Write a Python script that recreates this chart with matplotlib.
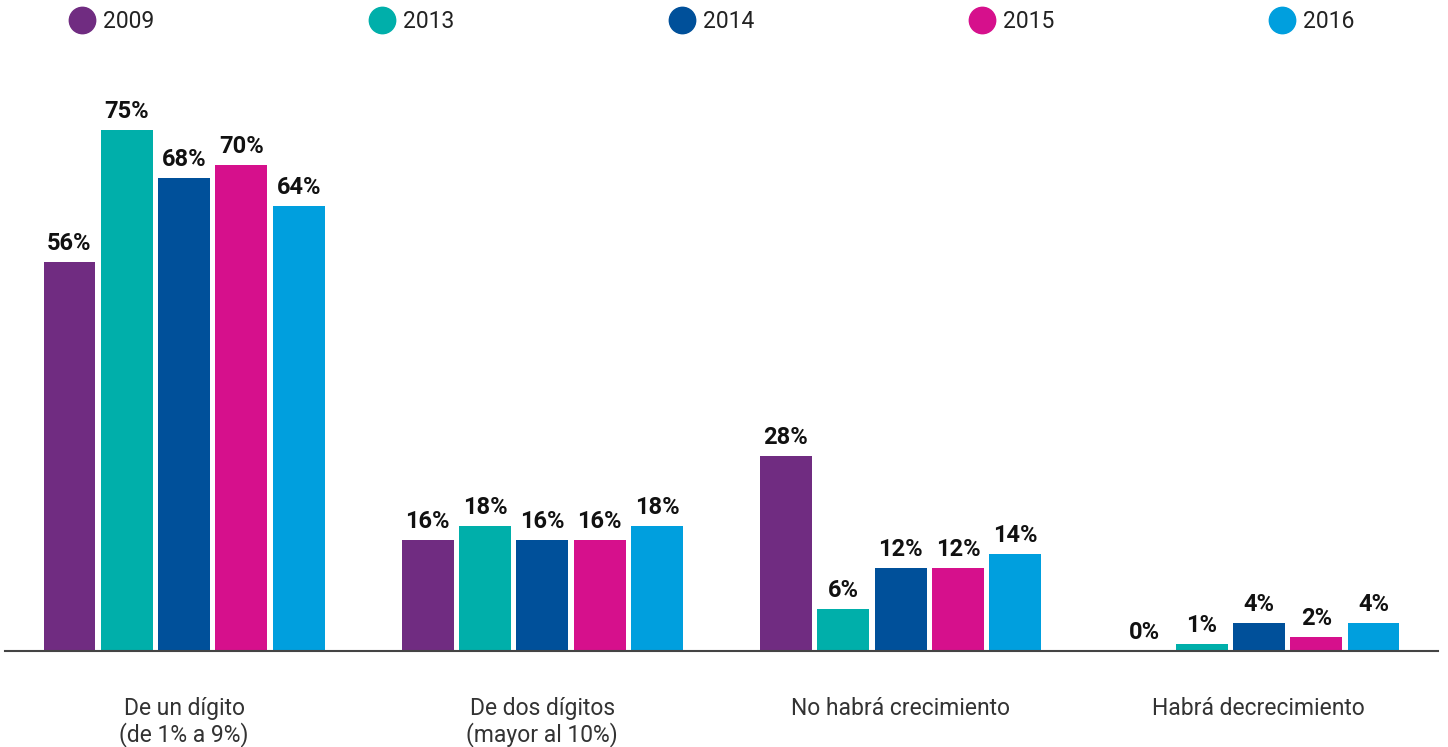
import numpy as np
import matplotlib.pyplot as plt
from matplotlib.lines import Line2D

plt.rcParams['font.family'] = ['Roboto', 'DejaVu Sans']

categorias = ['De un dígito\n(de 1% a 9%)', 'De dos dígitos\n(mayor al 10%)',
              'No habrá crecimiento', 'Habrá decrecimiento']
anios = ['2009', '2013', '2014', '2015', '2016']
valores = {
    '2009': [56, 16, 28, 0],
    '2013': [75, 18, 6, 1],
    '2014': [68, 16, 12, 4],
    '2015': [70, 16, 12, 2],
    '2016': [64, 18, 14, 4],
}
colores = ['#702C81', '#00AFAA', '#00509A', '#D6108C', '#009FDE']

fig = plt.figure(figsize=(14.48, 7.47), dpi=100)
ax = fig.add_axes([5/1448, 96/747, 1433/1448, 556/747])

x = np.arange(len(categorias))
paso = 0.16
ancho = 0.145
for i, anio in enumerate(anios):
    pos = x + (i - 2) * paso
    ax.bar(pos, valores[anio], width=ancho, color=colores[i])
    for xb, v in zip(pos, valores[anio]):
        ax.annotate(f'{v}%', (xb, v), xytext=(0, 5), textcoords='offset points',
                    ha='center', va='bottom', fontsize=17, fontweight='bold', color='#111111')

ax.set_xlim(-0.5, 3.5)
ax.set_ylim(0, 80)
for s in ['top', 'right', 'left']:
    ax.spines[s].set_visible(False)
ax.spines['bottom'].set_color('#444444')
ax.spines['bottom'].set_linewidth(1.5)
ax.set_yticks([])
ax.set_xticks(x)
ax.set_xticklabels(categorias, fontsize=16.5, color='#333333', linespacing=1.1)
ax.tick_params(axis='x', length=0, pad=33)

# leyenda
for i, anio in enumerate(anios):
    xl = (82 + i * 300) / 1448
    fig.add_artist(Line2D([xl], [1 - 20/747], marker='o', markersize=19,
                          color=colores[i], linestyle='none', transform=fig.transFigure))
    fig.text(xl + 21/1448, 1 - 21/747, anio, fontsize=16.5, color='#222222',
             ha='left', va='center')

fig.savefig('out.png', dpi=100)
